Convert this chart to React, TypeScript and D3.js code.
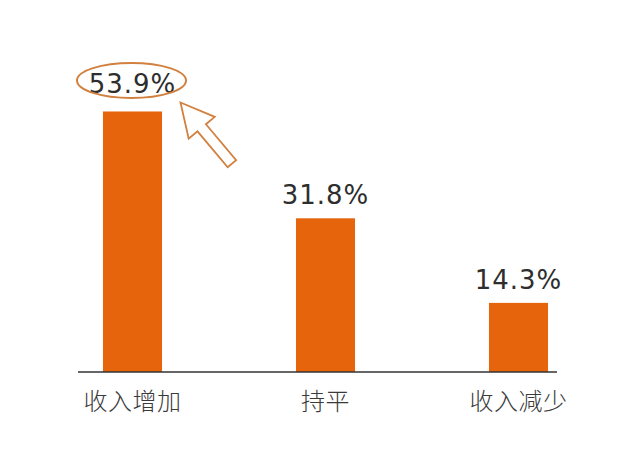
import React from "react";
import * as d3 from "d3";

const categories = ["收入增加", "持平", "收入减少"];
const values = [53.9, 31.8, 14.3];
const valueLabels = ["53.9%", "31.8%", "14.3%"];

const W = 640;
const H = 464;
const baseY = 372;
const BAR = "#E5640C";
const TEXT = "#2E2E2E";
const ACCENT = "#D2803F";

export default function App() {
  const x = d3
    .scaleBand<string>()
    .domain(categories)
    .range([36, 615])
    .paddingInner(0.694)
    .paddingOuter(0.347);
  const y = d3.scaleLinear().domain([0, 60]).range([baseY, baseY - 290]);

  const first = categories[0];
  const cx0 = (x(first) as number) + x.bandwidth() / 2;
  const labelY0 = y(values[0]) - 18;

  // arrow outline in local coordinates (tip at origin, pointing along -u)
  const arrowPts = [
    [0, 0],
    [33, -17],
    [33, -5.5],
    [80, -5.5],
    [80, 5.5],
    [33, 5.5],
    [33, 17],
  ]
    .map((p) => p.join(","))
    .join(" ");

  return (
    <svg
      width={W}
      height={H}
      style={{ position: "absolute", left: 0, top: 0, background: "#fff" }}
    >
      <rect width={W} height={H} fill="#fff" />
      {categories.map((c, i) => {
        const bx = x(c) as number;
        const cx = bx + x.bandwidth() / 2;
        const top = y(values[i]);
        return (
          <g key={c}>
            <rect
              x={bx}
              y={top}
              width={x.bandwidth()}
              height={baseY - top}
              fill={BAR}
            />
            <text
              x={cx}
              y={top - (i === 0 ? 18 : 14)}
              textAnchor="middle"
              fontFamily="'DejaVu Sans', sans-serif"
              fontSize={26}
              fill={TEXT}
              letterSpacing={1}
            >
              {valueLabels[i]}
            </text>
            <text
              x={cx}
              y={410}
              textAnchor="middle"
              fontFamily="'Noto Sans CJK SC', sans-serif"
              fontWeight={300}
              fontSize={24}
              fill="#3A3A3A"
              letterSpacing={0.5}
            >
              {c}
            </text>
          </g>
        );
      })}
      <line
        x1={78}
        x2={557}
        y1={baseY}
        y2={baseY}
        stroke="#333"
        strokeWidth={1.6}
      />
      <ellipse
        cx={cx0 - 1}
        cy={labelY0 - 13}
        rx={54.5}
        ry={17.5}
        fill="none"
        stroke={ACCENT}
        strokeWidth={2}
      />
      <polygon
        points={arrowPts}
        transform={`translate(${cx0 + 48},${labelY0 + 9}) rotate(50)`}
        fill="#fff"
        stroke={ACCENT}
        strokeWidth={1.8}
        strokeLinejoin="miter"
      />
    </svg>
  );
}
